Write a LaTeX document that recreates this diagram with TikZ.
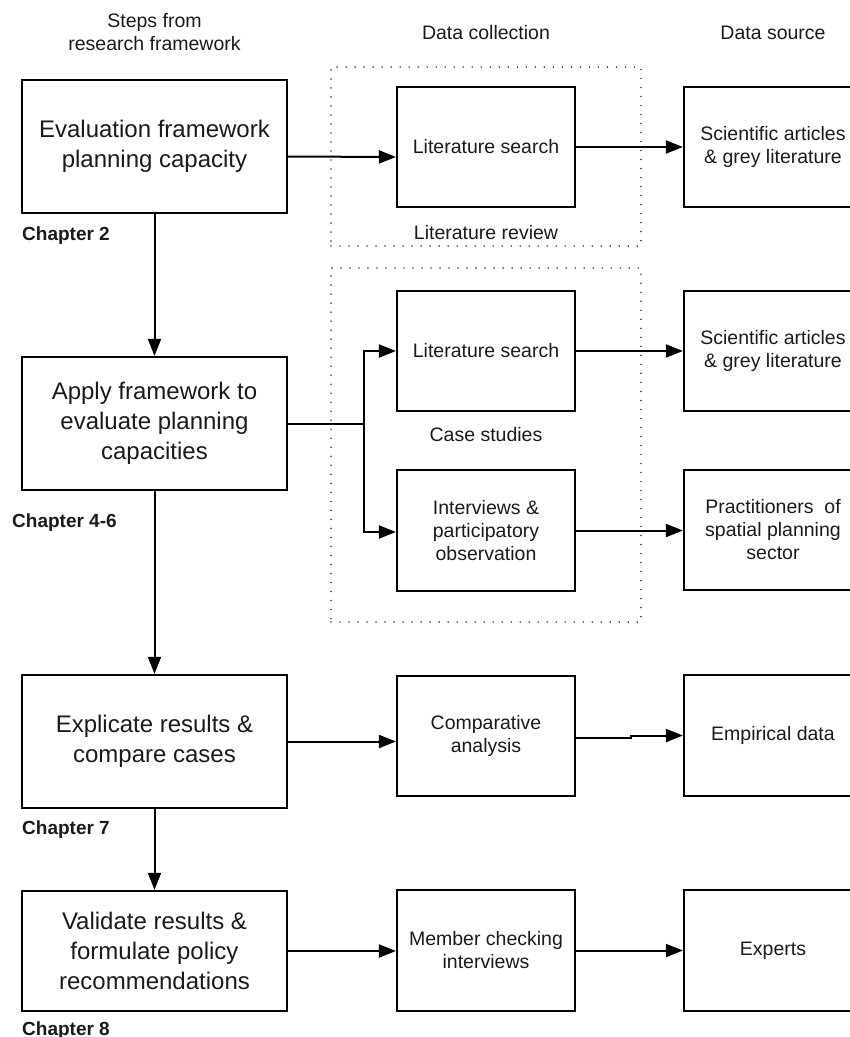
\documentclass[tikz,border=0pt]{standalone}
\usepackage{fontspec}
\setmainfont{Liberation Sans}
\usetikzlibrary{arrows.meta}
\definecolor{ink}{HTML}{1A1A1A}

\begin{document}
\begin{tikzpicture}[x=1pt,y=-1pt,
  stepbox/.style={draw=black, line width=2.2pt, inner sep=0pt,
    minimum width=265pt, minimum height=133pt, align=center,
    font=\fontsize{24}{30}\selectfont, text=ink},
  smallbox/.style={draw=black, line width=2.2pt, inner sep=0pt,
    minimum width=178pt, minimum height=120pt, align=center,
    font=\fontsize{19.5}{23}\selectfont, text=ink},
  headtext/.style={align=center, font=\fontsize{19.5}{23}\selectfont,
    text=ink, inner sep=0pt},
  chap/.style={anchor=base west, font=\fontsize{19}{22}\selectfont\bfseries,
    text=ink, inner sep=0pt},
  arr/.style={line width=2pt, -{Triangle[length=17pt,width=13pt]}},
  link/.style={line width=2pt},
  framebox/.style={draw=black!70, line width=1.7pt,
    dash pattern=on 0.01pt off 9pt, line cap=round, inner sep=0pt}
]
% page frame (source boxes run past the right edge)
\clip (0,0) rectangle (850,1037);

% column headings
\node[headtext] (h1) at (154.5,32) {Steps from\\research framework};
\node[headtext] (h2) at (486,33) {Data collection};
\node[headtext] (h3) at (773,33) {Data source};

% dotted groupings
\node[framebox, minimum width=310pt, minimum height=179pt] (rev) at (486,156.5) {};
\node[framebox, minimum width=310pt, minimum height=354pt] (cases) at (486,445) {};
\node[headtext] (revlbl) at (486,233) {Literature review};
\node[headtext] (caselbl) at (486,435) {Case studies};

% research steps
\node[stepbox] (A1) at (154.5,146.5) {Evaluation framework\\planning capacity};
\node[stepbox] (A2) at (154.5,423.5) {Apply framework to\\evaluate planning\\capacities};
\node[stepbox] (A3) at (154.5,741.5) {Explicate results \&\\compare cases};
\node[stepbox, minimum height=120pt] (A4) at (154.5,951) {Validate results \&\\formulate policy\\recommendations};

% chapter labels
\node[chap] (c2) at (22,240) {Chapter 2};
\node[chap] (c46) at (12,527) {Chapter 4-6};
\node[chap] (c7) at (22,834) {Chapter 7};
\node[chap] (c8) at (22,1035) {Chapter 8};

% data collection
\node[smallbox] (lit1) at (486,147) {Literature search};
\node[smallbox] (lit2) at (486,351) {Literature search};
\node[smallbox, minimum height=121pt] (intv) at (486,530.5) {Interviews \&\\participatory\\observation};
\node[smallbox] (comp) at (486,736) {Comparative\\analysis};
\node[smallbox, minimum height=121pt] (memb) at (486,950.5) {Member checking\\interviews};

% data sources
\node[smallbox] (src1) at (773,147) {Scientific articles\\\& grey literature};
\node[smallbox] (src2) at (773,351) {Scientific articles\\\& grey literature};
\node[smallbox] (src3) at (773,530) {Practitioners\ \ of\\spatial planning\\sector};
\node[smallbox, minimum height=121pt] (emp) at (773,735.5) {Empirical data};
\node[smallbox, minimum height=121pt] (expt) at (773,950.5) {Experts};

% flow between steps
\draw[arr] (A1.south) -- (A2.north);
\draw[arr] (A2.south) -- (A3.north);
\draw[arr] (A3.south) -- (A4.north);

% steps to data collection
\draw[arr] ([yshift=-10pt]A1.east) -- ([yshift=-10pt]lit1.west);
\coordinate (br) at (364,423.5);
\draw[link] (A2.east) -- (br);
\draw[arr] (br) |- (lit2.west);
\draw[arr] (br) |- ([yshift=-1.5pt]intv.west);
\draw[arr] (A3.east) -- (comp.west |- A3.east);
\draw[arr] (A4.east) -- (memb.west |- A4.east);

% data collection to sources
\draw[arr] (lit1.east) -- (src1.west);
\draw[arr] (lit2.east) -- (src2.west);
\draw[arr] (intv.east) -- (src3.west |- intv.east);
\draw[arr] ([yshift=-1.5pt]comp.east) -- ++(55,0) |- (emp.west);
\draw[arr] (memb.east) -- (expt.west |- memb.east);
\end{tikzpicture}
\end{document}
